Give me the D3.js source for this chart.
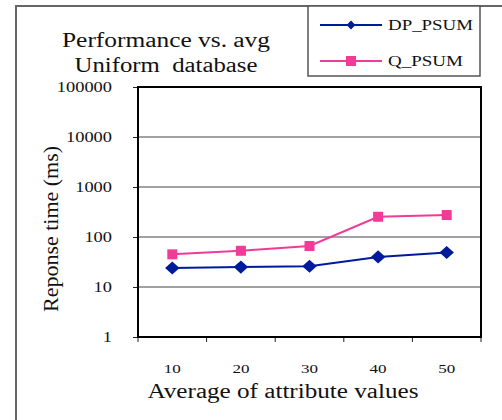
<!DOCTYPE html>
<html lang="en">
<head>
<meta charset="utf-8">
<title>Performance vs. avg</title>
<script src="https://cdn.jsdelivr.net/npm/d3@7"></script>
<style>
  body { margin: 0; background: #fff; }
  text { font-family: "Liberation Serif", "Times New Roman", serif; fill: #111; }
</style>
</head>
<body>
<script>
// data
var categories = ["10", "20", "30", "40", "50"];
var dpValues = [24, 25, 26, 40, 49];
var qValues = [45, 53, 66, 254, 275];
var yTicks = [1, 10, 100, 1000, 10000, 100000];
var seriesNames = ["DP_PSUM", "Q_PSUM"];

var w = 502, h = 420;
var pLeft = 138, pRight = 481, pTop = 87, pBottom = 337;

var svg = d3.select("body").append("svg")
  .attr("width", w)
  .attr("height", h);

// the reference text is wider than normal, so stretch it
function stretch(sel, len) {
  sel.attr("textLength", len).attr("lengthAdjust", "spacingAndGlyphs");
}

// outer frame
svg.append("rect")
  .attr("x", 16).attr("y", 6)
  .attr("width", 500).attr("height", 430)
  .attr("fill", "none")
  .attr("stroke", "#666")
  .attr("stroke-width", 2);

var x = d3.scaleBand().domain(categories).range([pLeft, pRight]);
var y = d3.scaleLog().domain([1, 100000]).range([pBottom, pTop]);

// gridlines
svg.append("g").selectAll("line")
  .data(yTicks.slice(1, -1))
  .enter().append("line")
  .attr("x1", pLeft).attr("x2", pRight)
  .attr("y1", function(d) { return y(d); })
  .attr("y2", function(d) { return y(d); })
  .attr("stroke", "#444")
  .attr("stroke-width", 1);

// y axis
var yAxis = svg.append("g")
  .attr("transform", "translate(" + pLeft + ",0)")
  .call(d3.axisLeft(y).tickValues(yTicks).tickFormat(d3.format("d")).tickSize(5).tickPadding(21));
yAxis.select(".domain").remove();
yAxis.attr("font-size", null).attr("font-family", null);
yAxis.selectAll("text").style("font-size", "14px").attr("fill", "#111")
  .each(function(d) { stretch(d3.select(this), String(d).length * 9.2); });
yAxis.selectAll("line").attr("stroke", "#222");

// x axis
var xAxis = svg.append("g")
  .attr("transform", "translate(0," + pBottom + ")")
  .call(d3.axisBottom(x).tickSize(0).tickPadding(27));
xAxis.select(".domain").remove();
xAxis.attr("font-size", null).attr("font-family", null);
xAxis.selectAll("text").style("font-size", "13px").attr("fill", "#111")
  .each(function() { stretch(d3.select(this), 17); });

// x tick marks at band boundaries
svg.append("g").selectAll("line")
  .data(categories.concat(["end"]))
  .enter().append("line")
  .attr("x1", function(d, i) { return i < categories.length ? x(d) : pRight; })
  .attr("x2", function(d, i) { return i < categories.length ? x(d) : pRight; })
  .attr("y1", pBottom).attr("y2", pBottom + 5)
  .attr("stroke", "#222");

// plot border
svg.append("rect")
  .attr("x", pLeft).attr("y", pTop)
  .attr("width", pRight - pLeft).attr("height", pBottom - pTop)
  .attr("fill", "none")
  .attr("stroke", "#000")
  .attr("stroke-width", 2);

var cx = function(d, i) { return x(categories[i]) + x.bandwidth() / 2; };
var line = d3.line().x(function(d, i) { return cx(d, i); }).y(function(d) { return y(d); });

var blue = "#001a9c", pink = "#f23a98";

// DP_PSUM
svg.append("path").datum(dpValues)
  .attr("d", line).attr("fill", "none").attr("stroke", blue).attr("stroke-width", 2);
svg.append("g").selectAll("path")
  .data(dpValues).enter().append("path")
  .attr("d", d3.symbol().type(d3.symbolDiamond2).size(110))
  .attr("transform", function(d, i) { return "translate(" + cx(d, i) + "," + y(d) + ") scale(1.1,1)"; })
  .attr("fill", blue);

// Q_PSUM
svg.append("path").datum(qValues)
  .attr("d", line).attr("fill", "none").attr("stroke", pink).attr("stroke-width", 2);
svg.append("g").selectAll("rect")
  .data(qValues).enter().append("rect")
  .attr("x", function(d, i) { return cx(d, i) - 5; })
  .attr("y", function(d) { return y(d) - 5; })
  .attr("width", 10).attr("height", 10)
  .attr("fill", pink);

// title
svg.append("text").attr("x", 166).attr("y", 47).attr("text-anchor", "middle")
  .style("font-size", "20px").text("Performance vs. avg").call(stretch, 208);
svg.append("text").attr("x", 166).attr("y", 72).attr("text-anchor", "middle")
  .style("font-size", "20px").style("white-space", "pre").text("Uniform  database").call(stretch, 183);

// axis titles
svg.append("text").attr("x", 283).attr("y", 398).attr("text-anchor", "middle")
  .style("font-size", "20px").text("Average of attribute values").call(stretch, 271);
svg.append("text")
  .attr("transform", "translate(58,229) rotate(-90)")
  .attr("text-anchor", "middle")
  .style("font-size", "21px").text("Reponse time (ms)").call(stretch, 166);

// legend
var legend = svg.append("g");
legend.append("rect")
  .attr("x", 308).attr("y", 6).attr("width", 172).attr("height", 70)
  .attr("fill", "#fff").attr("stroke", "#555").attr("stroke-width", 1.5);
var colors = [blue, pink];
var ly = [25, 61];
var legendLen = [85, 75];
seriesNames.forEach(function(name, i) {
  legend.append("line")
    .attr("x1", 320).attr("x2", 382).attr("y1", ly[i]).attr("y2", ly[i])
    .attr("stroke", colors[i]).attr("stroke-width", 2);
  if (i === 0) {
    legend.append("path")
      .attr("d", d3.symbol().type(d3.symbolDiamond2).size(50))
      .attr("transform", "translate(351," + ly[i] + ")")
      .attr("fill", colors[i]);
  } else {
    legend.append("rect")
      .attr("x", 346).attr("y", ly[i] - 5).attr("width", 10).attr("height", 10)
      .attr("fill", colors[i]);
  }
  legend.append("text").attr("x", 388).attr("y", ly[i] + 5)
    .style("font-size", "14px").text(name).call(stretch, legendLen[i]);
});
</script>
</body>
</html>
